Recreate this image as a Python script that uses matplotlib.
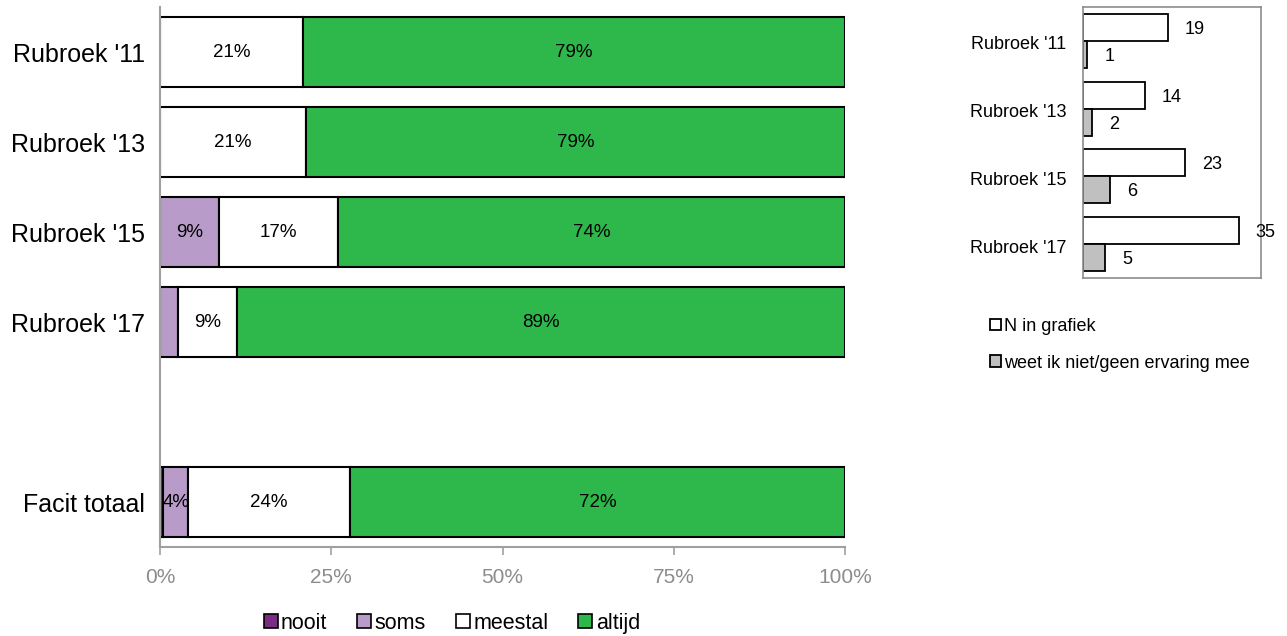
import matplotlib.pyplot as plt
from matplotlib.patches import Patch
import numpy as np

plt.rcParams['font.family'] = ['Liberation Sans', 'DejaVu Sans']

# stacked percentages per group
groups = ["Rubroek '11", "Rubroek '13", "Rubroek '15", "Rubroek '17", "Facit totaal"]
group_pos = [0, 1, 2, 3, 5]
nooit = [0.0, 0.0, 0.0, 0.0, 0.5]
soms = [0.0, 0.0, 8.6, 2.7, 3.6]
meestal = [20.9, 21.3, 17.4, 8.6, 23.6]
altijd = [79.1, 78.7, 74.0, 88.7, 72.3]

categories = ['nooit', 'soms', 'meestal', 'altijd']
colors = ['#7B2C83', '#B89BC9', '#FFFFFF', '#2EB84B']

# counts shown in the side panel
side_groups = ["Rubroek '11", "Rubroek '13", "Rubroek '15", "Rubroek '17"]
n_in_grafiek = [19, 14, 23, 35]
weet_niet = [1, 2, 6, 5]

fig = plt.figure(figsize=(12.87, 6.36), dpi=100)

ax = fig.add_axes([0.1243, 0.1399, 0.5323, 0.849])
left = np.zeros(len(groups))
for vals, col in zip([nooit, soms, meestal, altijd], colors):
    vals = np.array(vals)
    ax.barh(group_pos, vals, left=left, height=0.78, color=col,
            edgecolor='black', linewidth=1.5)
    for y, l, v in zip(group_pos, left, vals):
        if v >= 3:
            ax.text(l + v / 2, y, f'{v:.0f}%', ha='center', va='center',
                    fontsize=13.5)
    left += vals

ax.set_xlim(0, 100)
ax.set_ylim(5.5, -0.5)
ax.set_yticks(group_pos)
ax.set_yticklabels(groups, fontsize=18)
ax.tick_params(axis='y', length=0, pad=11)
ax.set_xticks([0, 25, 50, 75, 100])
ax.set_xticklabels(['0%', '25%', '50%', '75%', '100%'], fontsize=15, color='#8C8C8C')
ax.tick_params(axis='x', length=6, width=1.2, color='#A0A0A0', pad=9)
for s in ['top', 'right']:
    ax.spines[s].set_visible(False)
for s in ['left', 'bottom']:
    ax.spines[s].set_color('#A0A0A0')
    ax.spines[s].set_linewidth(1.5)

handles = [Patch(facecolor=c, edgecolor='black', linewidth=1.2) for c in colors]
fig.legend(handles, categories, loc='center', bbox_to_anchor=(0.351, 0.02),
           ncol=4, frameon=False, fontsize=15.5, handlelength=0.65,
           handleheight=0.65, handletextpad=0.15, columnspacing=1.4)

# side panel with respondent counts
ax2 = fig.add_axes([0.8415, 0.5629, 0.1383, 0.4261])
ypos = np.arange(len(side_groups))
ax2.barh(ypos - 0.2, n_in_grafiek, height=0.4, color='white',
         edgecolor='black', linewidth=1.3, label='N in grafiek')
ax2.barh(ypos + 0.2, weet_niet, height=0.4, color='#C0C0C0',
         edgecolor='black', linewidth=1.3, label='weet ik niet/geen ervaring mee')
for y, v in zip(ypos, n_in_grafiek):
    ax2.text(v + 6, y - 0.17, str(v), ha='center', va='center', fontsize=13)
for y, v in zip(ypos, weet_niet):
    ax2.text(v + 5, y + 0.23, str(v), ha='center', va='center', fontsize=13)
ax2.set_xlim(0, 40)
ax2.set_ylim(3.5, -0.5)
ax2.set_xticks([])
ax2.set_yticks(ypos + 0.03)
ax2.set_yticklabels(side_groups, fontsize=13)
ax2.tick_params(axis='y', length=0, pad=12)
for s in ax2.spines.values():
    s.set_color('#8C8C8C')
    s.set_linewidth(1.2)

h2, l2 = ax2.get_legend_handles_labels()
fig.legend(h2, l2, loc='upper left', bbox_to_anchor=(0.7566, 0.526),
           frameon=False, fontsize=13, handlelength=0.6, handleheight=0.6,
           handletextpad=0.15, labelspacing=1.1)

fig.savefig('out.png', dpi=100)
